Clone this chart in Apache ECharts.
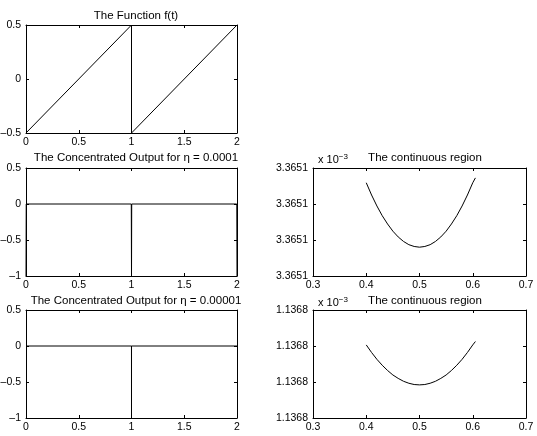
<!DOCTYPE html>
<html>
<head>
<meta charset="utf-8">
<script src="https://cdn.jsdelivr.net/npm/echarts@6/dist/echarts.min.js"></script>
<style>
html,body{margin:0;padding:0;background:#fff;}
#main{width:537px;height:436px;}
</style>
</head>
<body>
<div id="main"></div>
<script>
// f(t) sawtooth
var fT = [0, 1, 1, 2];
var fY = [-0.5, 0.5, -0.5, 0.5];
// concentrated output, eta = 0.0001
var c1T = [0, 0.002, 0.998, 1, 1.002, 1.998, 2];
var c1Y = [-1, 0, 0, -1, 0, 0, -1];
// concentrated output, eta = 0.00001
var c2T = [0, 0.9998, 1, 1.0002, 2];
var c2Y = [0, 0, -1, 0, 0];
// continuous region (x 10^-3)
var rT = [0.40, 0.41, 0.42, 0.43, 0.44, 0.45, 0.46, 0.47, 0.48, 0.49, 0.50,
          0.51, 0.52, 0.53, 0.54, 0.55, 0.56, 0.57, 0.58, 0.59, 0.60, 0.605];
var r1Y = [3.3651318, 3.3651250, 3.3651189, 3.3651135, 3.3651089, 3.3651049, 3.3651017, 3.3650992, 3.3650974, 3.3650964, 3.3650960,
           3.3650964, 3.3650974, 3.3650992, 3.3651017, 3.3651049, 3.3651089, 3.3651135, 3.3651189, 3.3651250, 3.3651318, 3.3651345];
var r2Y = [1.1368006, 1.1367964, 1.1367926, 1.1367893, 1.1367864, 1.1367839, 1.1367820, 1.1367804, 1.1367793, 1.1367786, 1.1367784,
           1.1367786, 1.1367793, 1.1367804, 1.1367820, 1.1367839, 1.1367864, 1.1367893, 1.1367926, 1.1367964, 1.1368006, 1.1368025];

var FONT = 'Liberation Sans';
var chart = echarts.init(document.getElementById('main'));

function zip(a, b) {
    var out = [];
    for (var i = 0; i < a.length; i++) out.push([a[i], b[i]]);
    return out;
}
function fmt(v) {
    return String(v).replace('-', '\u2013');
}

var grids = [
    {left: 26, top: 25, width: 211, height: 108},
    {left: 26, top: 168, width: 211, height: 108},
    {left: 26, top: 310, width: 211, height: 108},
    {left: 313, top: 168, width: 213, height: 108},
    {left: 313, top: 310, width: 213, height: 108}
];
grids.forEach(function (g) { g.outerBoundsMode = 'none'; g.containLabel = false; });

var xr = [[0, 2, 0.5], [0, 2, 0.5], [0, 2, 0.5], [0.3, 0.7, 0.1], [0.3, 0.7, 0.1]];
var yr = [[-0.5, 0.5, 0.5], [-1, 0.5, 0.5], [-1, 0.5, 0.5], [3.36508, 3.36514, 0.00002], [1.13676, 1.13682, 0.00002]];
var yFmt = [fmt, fmt, fmt, function (v) { return v.toFixed(4); }, function (v) { return v.toFixed(4); }];

var xAxes = [], yAxes = [];
grids.forEach(function (g, i) {
    [ 'bottom', 'top' ].forEach(function (pos, k) {
        xAxes.push({
            type: 'value', gridIndex: i, position: pos,
            min: xr[i][0], max: xr[i][1], interval: xr[i][2],
            axisLine: {show: true, onZero: false, lineStyle: {color: '#000', width: 1}},
            axisTick: {show: true, inside: true, length: 3, lineStyle: {color: '#000'}},
            axisLabel: {show: k === 0, color: '#000', fontFamily: FONT, fontSize: 10.5, margin: 4, formatter: fmt, showMinLabel: true, showMaxLabel: true},
            splitLine: {show: false}
        });
    });
    [ 'left', 'right' ].forEach(function (pos, k) {
        yAxes.push({
            type: 'value', gridIndex: i, position: pos,
            min: yr[i][0], max: yr[i][1], interval: yr[i][2],
            axisLine: {show: true, onZero: false, lineStyle: {color: '#000', width: 1}},
            axisTick: {show: true, inside: true, length: 3, lineStyle: {color: '#000'}},
            axisLabel: {show: k === 0, color: '#000', fontFamily: FONT, fontSize: 10.5, margin: 5, formatter: yFmt[i], showMinLabel: true, showMaxLabel: true},
            splitLine: {show: false}
        });
    });
});

var datas = [zip(fT, fY), zip(c1T, c1Y), zip(c2T, c2Y), zip(rT, r1Y), zip(rT, r2Y)];
var series = datas.map(function (d, i) {
    return {
        type: 'line', xAxisIndex: i * 2, yAxisIndex: i * 2,
        data: d, showSymbol: false, symbol: 'none',
        lineStyle: {color: '#000', width: 1}
    };
});

function ttl(text, x, y) {
    return {text: text, left: x, top: y, textAlign: 'center',
        textStyle: {fontFamily: FONT, fontSize: 11.5, fontWeight: 'normal', color: '#000'}};
}
function expo(x, y) {
    return {text: 'x 10{s|\u22123}', left: x, top: y,
        textStyle: {fontFamily: FONT, fontSize: 11, fontWeight: 'normal', color: '#000',
            rich: {s: {fontFamily: FONT, fontSize: 8, color: '#000', verticalAlign: 'top', padding: [0, 0, 6, 0]}}}};
}

option = {
    backgroundColor: '#fff',
    animation: false,
    title: [
        ttl('The Function f(t)', 131, 5),
        ttl('The Concentrated Output for \u03b7 = 0.0001', 131, 147),
        ttl('The Concentrated Output for \u03b7 = 0.00001', 131, 290),
        ttl('The continuous region', 420, 147),
        ttl('The continuous region', 420, 290),
        expo(313, 148),
        expo(313, 291)
    ],
    grid: grids,
    xAxis: xAxes,
    yAxis: yAxes,
    series: series
};
chart.setOption(option);
</script>
</body>
</html>
